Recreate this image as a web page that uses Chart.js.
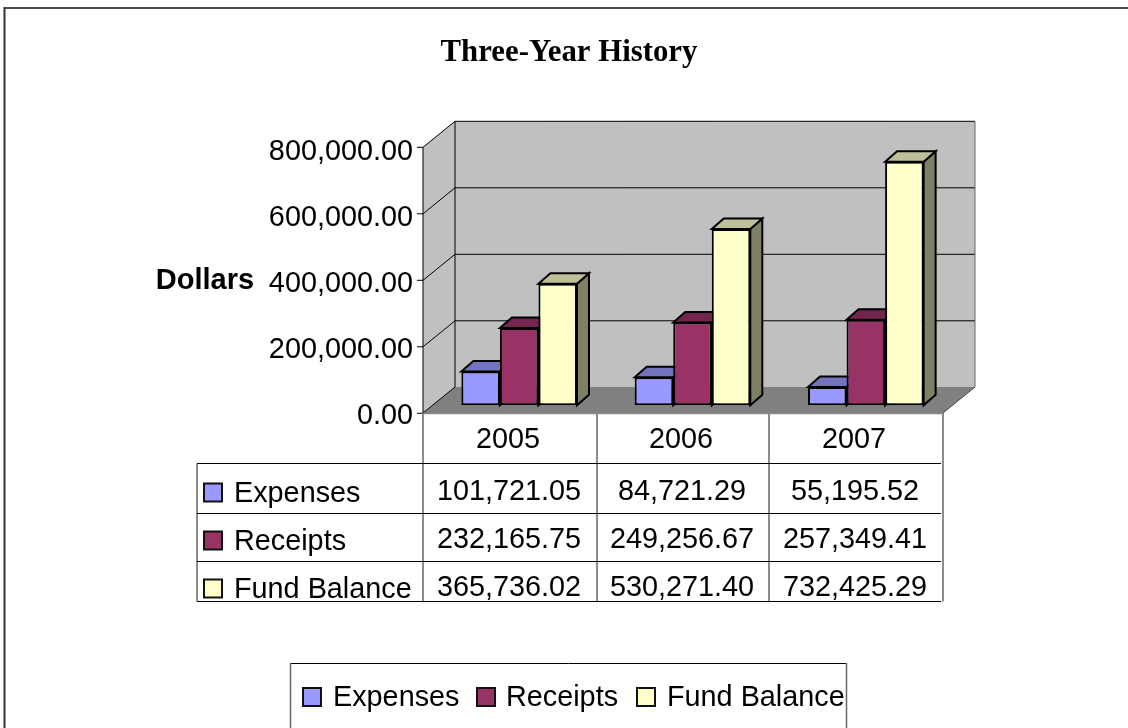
<!DOCTYPE html>
<html><head><meta charset="utf-8">
<style>html,body{margin:0;padding:0;background:#fff;overflow:hidden}canvas{display:block}</style>
<script src="https://cdn.jsdelivr.net/npm/chart.js@4"></script></head>
<body><canvas id="c" width="1128" height="728"></canvas>
<script>
const categories = ['2005','2006','2007'];
const expenses = [101721.05, 84721.29, 55195.52];
const receipts = [232165.75, 249256.67, 257349.41];
const fundBalance = [365736.02, 530271.40, 732425.29];
const seriesNames = ['Expenses','Receipts','Fund Balance'];
const faceColors = ['#9999FF','#993366','#FFFFCC'];
const topColors = ['#7373BF','#73264D','#BFBF99'];
const sideColors = ['#60609F','#602040','#7F7F66'];
const yTicks = [0,200000,400000,600000,800000];
const titleText = 'Three-Year History';
const yAxisName = 'Dollars';
const FONT = '"Liberation Sans",Arial,sans-serif';
const fmt = v => v.toLocaleString('en-US',{minimumFractionDigits:2,maximumFractionDigits:2});
function line(ctx,x1,y1,x2,y2,c,w){ctx.strokeStyle=c||'#000';ctx.lineWidth=w||1;ctx.beginPath();ctx.moveTo(x1,y1);ctx.lineTo(x2,y2);ctx.stroke();}
function poly(ctx,pts,fill,stroke,w){ctx.beginPath();pts.forEach((p,i)=>i?ctx.lineTo(p[0],p[1]):ctx.moveTo(p[0],p[1]));ctx.closePath();if(fill){ctx.fillStyle=fill;ctx.fill();}if(stroke){ctx.strokeStyle=stroke;ctx.lineWidth=w||1;ctx.lineJoin='miter';ctx.stroke();}}
function text(ctx,s,x,y,font,align){ctx.font=font;ctx.fillStyle='#000';ctx.textAlign=align||'left';ctx.textBaseline='alphabetic';ctx.fillText(s,x,y);}
const swatch=(ctx,x,y,i)=>{ctx.fillStyle=faceColors[i];ctx.fillRect(x,y,18,18);ctx.strokeStyle='#111';ctx.lineWidth=2;ctx.strokeRect(x,y,18,18);};

const DX=32,DY=26,front={l:423,r:943,b:413},pb=8;
const decor={id:'decor',
 beforeDatasetsDraw(chart){
  const ctx=chart.ctx,y=chart.scales.y;ctx.save();
  const toFront=v=>y.getPixelForValue(v)+pb;
  const l=front.l,r=front.r,b=front.b,top=toFront(800000);
  poly(ctx,[[l,top],[l+DX,top-DY],[l+DX,b-DY],[l,b]],'#C0C0C0');
  poly(ctx,[[l+DX,top-DY],[r+DX,top-DY],[r+DX,b-DY],[l+DX,b-DY]],'#C0C0C0');
  poly(ctx,[[l,b],[r,b],[r+DX,b-DY],[l+DX,b-DY]],'#808080');
  yTicks.forEach(v=>{const p=toFront(v);
    line(ctx,l-6,p,l,p);
    if(v>0){line(ctx,l,p,l+DX,p-DY);line(ctx,l+DX,p-DY,r+DX,p-DY);}
    text(ctx,fmt(v),413,p+11+1.5*v/800000,'28.8px '+FONT,'right');});
  line(ctx,l,top,l,b);line(ctx,l+DX,top-DY,l+DX,b-DY);
  line(ctx,l,b,l+DX,b-DY);line(ctx,r,b,r+DX,b-DY,'#444');
  line(ctx,r+DX,top-DY,r+DX,b-DY,'#666');
  // 3D bar faces
  chart.data.datasets.forEach((ds,i)=>{chart.getDatasetMeta(i).data.forEach(bar=>{
    const p=bar.getProps(['x','y','base','width'],true),a=p.x-p.width/2,c=p.x+p.width/2,dx=12,dy=10.5;
    poly(ctx,[[c,p.y],[c+dx,p.y-dy],[c+dx,p.base-dy],[c,p.base]],sideColors[i],'#000',2);
    poly(ctx,[[a,p.y],[a+dx,p.y-dy],[c+dx,p.y-dy],[c,p.y]],topColors[i],'#000',2);
  });});
  ctx.restore();
 },
 afterDraw(chart){
  const ctx=chart.ctx,W=chart.width,H=chart.height;ctx.save();
  // frame
  line(ctx,4,8,W,8,'#111',1.5);line(ctx,4.5,7,4.5,H,'#333',2);
  text(ctx,titleText,569,61,'bold 30.8px "Liberation Serif",serif','center');
  text(ctx,yAxisName,205,288.5,'bold 29px '+FONT,'center');
  // data table
  const cols=[423,597,769,943],rows=[463.5,513.5,561.5,601.5],F='28.8px '+FONT;
  cols.forEach(x=>line(ctx,x,413,x,rows[3],'#666',1.5));
  line(ctx,197,rows[0],197,rows[3],'#666',1.5);
  line(ctx,423,413.5,943,413.5,'#888',1.5);
  rows.forEach(r=>line(ctx,197,r,941,r));
  categories.forEach((c,j)=>text(ctx,c,(cols[j]+cols[j+1])/2-2,448,F,'center'));
  [expenses,receipts,fundBalance].forEach((arr,i)=>{
    swatch(ctx,204,[483.5,531.5,579.5][i],i);
    text(ctx,seriesNames[i],234,[502,550,598][i],F);
    arr.forEach((v,j)=>text(ctx,fmt(v),(cols[j]+cols[j+1])/2-1,[499.5,548,595.5][i],F,'center'));
  });
  // legend
  line(ctx,290,663.5,847,663.5);
  line(ctx,290.5,663,290.5,H,'#666',1.5);line(ctx,846.5,663,846.5,H,'#666',1.5);
  const lx=[303,477,637],tx=[333,506,667];
  seriesNames.forEach((n,i)=>{swatch(ctx,lx[i],688,i);text(ctx,n,tx[i],706,F);});
  ctx.restore();
 }};

new Chart(document.getElementById('c'),{
 type:'bar',
 data:{labels:categories,datasets:[
  {label:seriesNames[0],data:expenses},
  {label:seriesNames[1],data:receipts},
  {label:seriesNames[2],data:fundBalance}
 ].map((d,i)=>Object.assign(d,{backgroundColor:faceColors[i],borderColor:'#000',borderWidth:2,borderSkipped:false,barPercentage:1,categoryPercentage:0.667}))},
 options:{responsive:false,animation:false,
  layout:{padding:{left:432.5,right:1128-952.5,top:139.3,bottom:728-405.3}},
  plugins:{legend:{display:false},title:{display:false},tooltip:{enabled:false}},
  scales:{x:{display:false,offset:true},y:{display:false,min:0,max:800000,afterBuildTicks(s){s.ticks=yTicks.map(v=>({value:v}));}}}
 },
 plugins:[decor]});
</script></body></html>
